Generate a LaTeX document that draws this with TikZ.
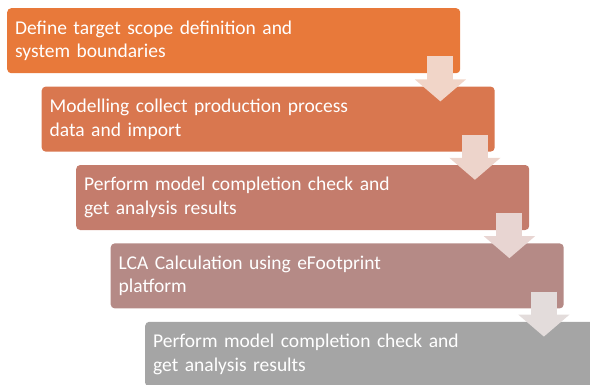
\documentclass[tikz,border=0pt]{standalone}
\usepackage{fontspec}
\setmainfont{Carlito}
\usetikzlibrary{arrows.meta, positioning}

\definecolor{stepone}{HTML}{E8793A}
\definecolor{steptwo}{HTML}{D9774F}
\definecolor{stepthree}{HTML}{C47C6C}
\definecolor{stepfour}{HTML}{B58A86}
\definecolor{stepfive}{HTML}{A5A5A5}
\definecolor{arrowone}{HTML}{F1D5C8}
\definecolor{arrowtwo}{HTML}{EDD4CB}
\definecolor{arrowthree}{HTML}{E8D5D2}
\definecolor{arrowfour}{HTML}{E3DCDB}

\begin{document}
\begin{tikzpicture}[x=1pt, y=1pt]
    \tikzstyle{stepbox} = [rectangle, rounded corners=4pt, minimum width=453pt, minimum height=65pt, text width=437pt, inner xsep=8pt, inner ysep=0pt, align=left, text=white, font=\fontsize{19.5}{23.5}\selectfont]
    \tikzstyle{flow}    = [line width=26pt, -{Triangle[width=50pt, length=22pt]}]

    \clip (0,0) rectangle (590,-384);

    % Process steps
    \node [stepbox, fill=stepone, anchor=north west] (scope) at (7,-8) {Define target scope definition and\\system boundaries};
    \node [stepbox, fill=steptwo, below right=13pt and 34.5pt of scope.south west]     (collect)  {Modelling collect production process\\data and import};
    \node [stepbox, fill=stepthree, below right=13pt and 34.5pt of collect.south west] (check)    {Perform model completion check and\\get analysis results};
    \node [stepbox, fill=stepfour, below right=13pt and 34.5pt of check.south west]    (lca)      {LCA Calculation using eFootprint\\platform};
    \node [stepbox, fill=stepfive, below right=13pt and 34.5pt of lca.south west]      (results)  {Perform model completion check and\\get analysis results};

    % Arrows
    \draw [flow, draw=arrowone]   ([xshift=-20pt, yshift=17pt]scope.south east)   -- ([xshift=-20pt, yshift=-28pt]scope.south east);
    \draw [flow, draw=arrowtwo]   ([xshift=-20pt, yshift=17pt]collect.south east) -- ([xshift=-20pt, yshift=-28pt]collect.south east);
    \draw [flow, draw=arrowthree] ([xshift=-20pt, yshift=17pt]check.south east)   -- ([xshift=-20pt, yshift=-28pt]check.south east);
    \draw [flow, draw=arrowfour]  ([xshift=-20pt, yshift=17pt]lca.south east)     -- ([xshift=-20pt, yshift=-28pt]lca.south east);

\end{tikzpicture}
\end{document}
